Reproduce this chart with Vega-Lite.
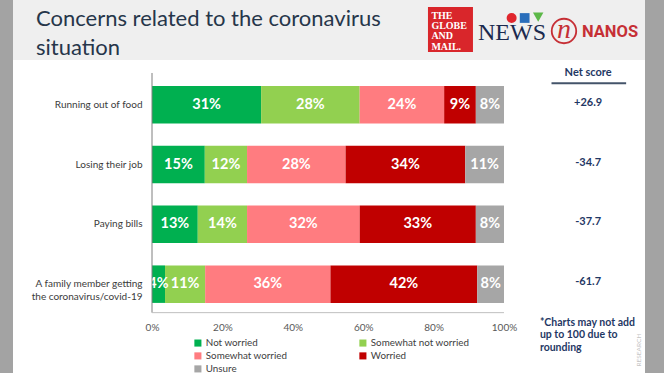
{
  "$schema": "https://vega.github.io/schema/vega-lite/v6.json",
  "background": "#a3a3a3",
  "padding": {"left": 13, "right": 19, "top": 0, "bottom": 0},
  "spacing": 0,
  "config": {
    "view": {"stroke": null},
    "font": "Lato",
    "concat": {"spacing": 0},
    "locale": {"number": {"decimal": ".", "thousands": ",", "grouping": [3], "currency": ["$", ""], "minus": "-"}}
  },
  "resolve": {
    "scale": {"x": "independent", "y": "independent", "color": "independent"},
    "legend": {"color": "independent"}
  },
  "datasets": {
    "bars": [
      {"item": "Running out of food", "response": "Not worried", "share": 0.31},
      {"item": "Running out of food", "response": "Somewhat not worried", "share": 0.28},
      {"item": "Running out of food", "response": "Somewhat worried", "share": 0.24},
      {"item": "Running out of food", "response": "Worried", "share": 0.09},
      {"item": "Running out of food", "response": "Unsure", "share": 0.08},
      {"item": "Losing their job", "response": "Not worried", "share": 0.15},
      {"item": "Losing their job", "response": "Somewhat not worried", "share": 0.12},
      {"item": "Losing their job", "response": "Somewhat worried", "share": 0.28},
      {"item": "Losing their job", "response": "Worried", "share": 0.34},
      {"item": "Losing their job", "response": "Unsure", "share": 0.11},
      {"item": "Paying bills", "response": "Not worried", "share": 0.13},
      {"item": "Paying bills", "response": "Somewhat not worried", "share": 0.14},
      {"item": "Paying bills", "response": "Somewhat worried", "share": 0.32},
      {"item": "Paying bills", "response": "Worried", "share": 0.33},
      {"item": "Paying bills", "response": "Unsure", "share": 0.08},
      {"item": "A family member getting the coronavirus/covid-19", "response": "Not worried", "share": 0.037},
      {"item": "A family member getting the coronavirus/covid-19", "response": "Somewhat not worried", "share": 0.114},
      {"item": "A family member getting the coronavirus/covid-19", "response": "Somewhat worried", "share": 0.356},
      {"item": "A family member getting the coronavirus/covid-19", "response": "Worried", "share": 0.417},
      {"item": "A family member getting the coronavirus/covid-19", "response": "Unsure", "share": 0.076}
    ],
    "net": [
      {"item": "Running out of food", "net": 26.9},
      {"item": "Losing their job", "net": -34.7},
      {"item": "Paying bills", "net": -37.7},
      {"item": "A family member getting the coronavirus/covid-19", "net": -61.7}
    ],
    "notes": [
      {"net_header": "Net score", "footnote": "*Charts may not add\nup to 100 due to\nrounding", "watermark": "RESEARCH"}
    ],
    "header": [
      {"title": "Concerns related to the coronavirus\nsituation", "globe": "THE\nGLOBE\nAND\nMAIL.", "news": "NEWS", "n": "n", "nanos": "NANOS"}
    ]
  },
  "vconcat": [
    {
      "width": 632,
      "height": 60,
      "view": {"fill": "#efefef", "stroke": null},
      "data": {"name": "header"},
      "layer": [
        {
          "mark": {"type": "text", "align": "left", "baseline": "alphabetic", "lineBreak": "\n", "lineHeight": 29, "fontSize": 22, "font": "Lato", "color": "#26364a"},
          "encoding": {
            "text": {"field": "title"},
            "x": {"datum": 3.64, "type": "quantitative", "scale": {"domain": [0, 100], "nice": false, "zero": false}, "axis": null},
            "y": {"datum": 43.3, "type": "quantitative", "scale": {"domain": [0, 100], "reverse": true, "nice": false, "zero": false}, "axis": null}
          }
        },
        {
          "mark": {"type": "rect", "color": "#d9262b"},
          "encoding": {
            "x": {"datum": 65.66, "type": "quantitative", "axis": null},
            "x2": {"datum": 72.78},
            "y": {"datum": 11.67, "type": "quantitative", "axis": null},
            "y2": {"datum": 86.67}
          }
        },
        {
          "mark": {"type": "text", "align": "left", "baseline": "alphabetic", "lineBreak": "\n", "lineHeight": 10.3, "fontSize": 10, "fontWeight": "bold", "font": "Liberation Serif", "color": "#ffffff"},
          "encoding": {
            "text": {"field": "globe"},
            "x": {"datum": 66.2, "type": "quantitative", "axis": null},
            "y": {"datum": 31.5, "type": "quantitative", "axis": null}
          }
        },
        {
          "mark": {"type": "point", "shape": "circle", "filled": true, "size": 100, "color": "#e0262d", "opacity": 1},
          "encoding": {
            "x": {"datum": 78.9, "type": "quantitative", "axis": null},
            "y": {"datum": 30, "type": "quantitative", "axis": null}
          }
        },
        {
          "mark": {"type": "point", "shape": "square", "filled": true, "size": 95, "color": "#2a6ebb", "opacity": 1},
          "encoding": {
            "x": {"datum": 80.96, "type": "quantitative", "axis": null},
            "y": {"datum": 30, "type": "quantitative", "axis": null}
          }
        },
        {
          "mark": {"type": "point", "shape": "triangle-down", "filled": true, "size": 110, "color": "#5cb848", "opacity": 1},
          "encoding": {
            "x": {"datum": 83.1, "type": "quantitative", "axis": null},
            "y": {"datum": 28.5, "type": "quantitative", "axis": null}
          }
        },
        {
          "mark": {"type": "text", "align": "left", "baseline": "alphabetic", "fontSize": 24, "font": "Liberation Serif", "color": "#1b2a4e"},
          "encoding": {
            "text": {"field": "news"},
            "x": {"datum": 73.58, "type": "quantitative", "axis": null},
            "y": {"datum": 66.7, "type": "quantitative", "axis": null}
          }
        },
        {
          "mark": {"type": "point", "shape": "circle", "filled": false, "size": 600, "color": "#c62f35", "strokeWidth": 1.8, "opacity": 1},
          "encoding": {
            "x": {"datum": 87.18, "type": "quantitative", "axis": null},
            "y": {"datum": 51.7, "type": "quantitative", "axis": null}
          }
        },
        {
          "mark": {"type": "text", "align": "center", "baseline": "alphabetic", "fontSize": 28, "fontStyle": "italic", "font": "Liberation Serif", "color": "#c62f35"},
          "encoding": {
            "text": {"field": "n"},
            "x": {"datum": 87.18, "type": "quantitative", "axis": null},
            "y": {"datum": 64, "type": "quantitative", "axis": null}
          }
        },
        {
          "mark": {"type": "text", "align": "left", "baseline": "alphabetic", "fontSize": 16.5, "fontWeight": "bold", "font": "Roboto", "color": "#c62f35"},
          "encoding": {
            "text": {"field": "nanos"},
            "x": {"datum": 90.03, "type": "quantitative", "axis": null},
            "y": {"datum": 61.7, "type": "quantitative", "axis": null}
          }
        }
      ]
    },
    {
      "width": 632,
      "height": 313,
      "view": {"fill": "#ffffff", "stroke": null},
      "layer": [
        {
          "data": {"name": "bars"},
          "transform": [{"stack": "share", "groupby": ["item"], "as": ["x0", "x1"]}],
          "mark": {"type": "bar"},
          "encoding": {
            "y": {
              "field": "item", "type": "nominal",
              "scale": {
                "domain": ["Running out of food", "Losing their job", "Paying bills", "A family member getting the coronavirus/covid-19"],
                "paddingInner": 0.373, "paddingOuter": 0.8035, "align": 0.2706
              },
              "axis": {
                "title": null, "orient": "left", "offset": -139, "domain": false, "ticks": false, "grid": false,
                "labelPadding": 10, "labelFontSize": 10, "labelColor": "#3b3b3b", "labelFont": "Lato", "labelLineHeight": 13, "labelLimit": 200,
                "labelExpr": "datum.value == 'A family member getting the coronavirus/covid-19' ? ['A family member getting', 'the coronavirus/covid-19'] : datum.value"
              }
            },
            "x": {
              "field": "x0", "type": "quantitative",
              "scale": {"domain": [-0.3949, 1.4006], "nice": false, "zero": false},
              "axis": {
                "title": null, "orient": "bottom", "offset": -60, "values": [0, 0.2, 0.4, 0.6, 0.8, 1], "format": ".0%",
                "domain": false, "ticks": false, "grid": false, "labelPadding": 9, "labelFontSize": 10,
                "labelColor": "#595959", "labelFont": "Lato", "labelOverlap": false, "labelFlush": false
              }
            },
            "x2": {"field": "x1"},
            "color": {
              "field": "response", "type": "nominal",
              "scale": {
                "domain": ["Not worried", "Somewhat not worried", "Somewhat worried", "Worried", "Unsure"],
                "range": ["#00b050", "#92d050", "#ff7c80", "#c00000", "#a6a6a6"]
              },
              "legend": {
                "orient": "none", "legendX": 180, "legendY": 278, "direction": "horizontal", "columns": 2, "title": null,
                "symbolType": "square", "symbolSize": 50, "symbolStrokeWidth": 0,
                "labelFontSize": 9.8, "labelColor": "#404040", "labelFont": "Lato", "labelOffset": 3,
                "columnPadding": 70, "rowPadding": 2, "padding": 0
              }
            }
          }
        },
        {
          "data": {"name": "bars"},
          "transform": [
            {"stack": "share", "groupby": ["item"], "as": ["x0", "x1"]},
            {"fold": ["x0", "x1"], "as": ["edge", "pos"]},
            {"aggregate": [{"op": "mean", "field": "pos", "as": "mid"}], "groupby": ["item", "response", "share"]}
          ],
          "mark": {"type": "text", "align": "center", "baseline": "middle", "fontSize": 14.5, "fontWeight": "bold", "font": "Lato", "color": "#ffffff"},
          "encoding": {
            "y": {"field": "item", "type": "nominal"},
            "x": {"field": "mid", "type": "quantitative"},
            "text": {"field": "share", "type": "quantitative", "format": ".0%"}
          }
        },
        {
          "data": {"name": "notes"},
          "mark": {"type": "rule", "color": "#7f7f7f", "strokeWidth": 1},
          "encoding": {
            "x": {"datum": 0, "type": "quantitative"},
            "y": {"datum": "Running out of food", "type": "nominal", "bandPosition": -0.347},
            "y2": {"datum": "A family member getting the coronavirus/covid-19", "bandPosition": 1.26}
          }
        },
        {
          "data": {"name": "notes"},
          "mark": {"type": "rule", "color": "#bfbfbf", "strokeWidth": 1},
          "encoding": {
            "x": {"datum": 0, "type": "quantitative"},
            "x2": {"datum": 1},
            "y": {"datum": "A family member getting the coronavirus/covid-19", "type": "nominal", "bandPosition": 1.26}
          }
        },
        {
          "data": {"name": "notes"},
          "mark": {"type": "text", "align": "center", "baseline": "middle", "fontSize": 11, "fontWeight": "bold", "font": "Lato", "color": "#1f3864"},
          "encoding": {
            "text": {"field": "net_header"},
            "x": {"datum": 1.239, "type": "quantitative"},
            "y": {"datum": "Running out of food", "type": "nominal", "bandPosition": -0.355}
          }
        },
        {
          "data": {"name": "notes"},
          "mark": {"type": "rule", "color": "#44546a", "strokeWidth": 2},
          "encoding": {
            "x": {"datum": 1.135, "type": "quantitative"},
            "x2": {"datum": 1.347},
            "y": {"datum": "Running out of food", "type": "nominal", "bandPosition": -0.072}
          }
        },
        {
          "data": {"name": "net"},
          "mark": {"type": "text", "align": "center", "baseline": "middle", "dy": -2, "fontSize": 11, "fontWeight": "bold", "font": "Lato", "color": "#1f3864"},
          "encoding": {
            "text": {"field": "net", "type": "quantitative", "format": "+.1f"},
            "x": {"datum": 1.239, "type": "quantitative"},
            "y": {"field": "item", "type": "nominal"}
          }
        },
        {
          "data": {"name": "notes"},
          "mark": {"type": "text", "align": "left", "baseline": "top", "lineBreak": "\n", "lineHeight": 12.5, "fontSize": 10.5, "fontWeight": "bold", "font": "Lato", "color": "#1f3864"},
          "encoding": {
            "text": {"field": "footnote"},
            "x": {"datum": 1.102, "type": "quantitative"},
            "y": {"datum": "A family member getting the coronavirus/covid-19", "type": "nominal", "bandPosition": 1.4}
          }
        },
        {
          "data": {"name": "notes"},
          "mark": {"type": "text", "align": "right", "baseline": "middle", "angle": 270, "fontSize": 6.5, "font": "Lato", "color": "#c4c4c4"},
          "encoding": {
            "text": {"field": "watermark"},
            "x": {"datum": 1.383, "type": "quantitative"},
            "y": {"datum": "A family member getting the coronavirus/covid-19", "type": "nominal", "bandPosition": 1.82}
          }
        }
      ]
    }
  ]
}
